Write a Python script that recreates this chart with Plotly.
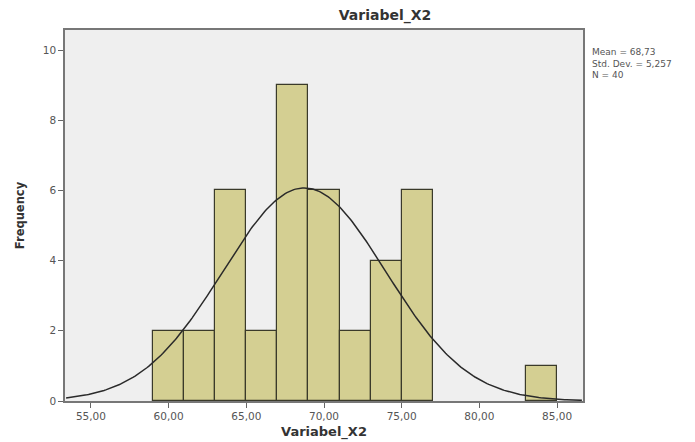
import numpy as np
import plotly.graph_objects as go

bin_starts = [59, 61, 63, 65, 67, 69, 71, 73, 75, 83]
counts = [2, 2, 6, 2, 9, 6, 2, 4, 6, 1]
bin_width = 2
mean_val = 68.73
std_val = 5.257
n_val = 40
x_ticks = [55, 60, 65, 70, 75, 80, 85]
x_tick_labels = ["55,00", "60,00", "65,00", "70,00", "75,00", "80,00", "85,00"]
y_ticks = [0, 2, 4, 6, 8, 10]

centers = [s + bin_width / 2 for s in bin_starts]

fig = go.Figure()
fig.add_trace(go.Bar(
    x=centers, y=counts, width=[bin_width] * len(counts),
    marker=dict(color="#d4cf92", line=dict(color="#3a3a2a", width=1.2)),
    showlegend=False,
))

xs = np.linspace(53.4, 86.6, 300)
ys = n_val * bin_width / (std_val * np.sqrt(2 * np.pi)) * np.exp(-0.5 * ((xs - mean_val) / std_val) ** 2)
fig.add_trace(go.Scatter(x=xs, y=ys, mode="lines", line=dict(color="#2a2a2a", width=1.5), showlegend=False))

font = "DejaVu Sans, Liberation Sans, Arial, sans-serif"
stats_text = "<br>".join([
    f"Mean = {str(mean_val).replace('.', ',')}",
    f"Std. Dev. = {str(std_val).replace('.', ',')}",
    f"N = {n_val}",
])
# the page adds an 8px body margin; figure is sized to fit the 695x442 window
W, H = 687, 434
L, T, PW, PH = 57, 22, 518, 371

fig.update_layout(
    width=W, height=H,
    margin=dict(l=L, r=W - L - PW, t=T, b=H - T - PH),
    paper_bgcolor="white", plot_bgcolor="#efefef",
    font=dict(family=font, color="#444"),
    bargap=0,
    title=dict(text="<b>Variabel_X2</b>", x=(377 - L) / W * 0 + (L + 320) / W, xanchor="center",
               y=1 - 7 / H, yanchor="middle",
               font=dict(size=14, color="#333")),
    xaxis=dict(range=[53.33, 86.67], tickvals=x_ticks, ticktext=x_tick_labels, automargin=False,
               ticks="outside", ticklen=5, tickcolor="#666", showgrid=False, zeroline=False,
               showline=True, linecolor="#777", linewidth=1.5, mirror=True,
               tickfont=dict(size=10.5, color="#555"),
               title=dict(text="<b>Variabel_X2</b>", font=dict(size=13, color="#333"), standoff=6)),
    yaxis=dict(range=[0, 10.57], tickvals=y_ticks, ticks="outside", ticklen=5, tickcolor="#666",
               automargin=False,
               showgrid=False, zeroline=False, showline=True, linecolor="#777", linewidth=1.5, mirror=True,
               tickfont=dict(size=10.5, color="#555"),
               title=dict(text="<b>Frequency</b>", font=dict(size=11.5, color="#333"), standoff=16)),
    annotations=[dict(
        text=stats_text, xref="paper", yref="paper", x=1.013, y=1 - 15 / PH,
        xanchor="left", yanchor="top", showarrow=False, align="left",
        font=dict(size=9, color="#555"))],
)

fig.write_html("out.html")
